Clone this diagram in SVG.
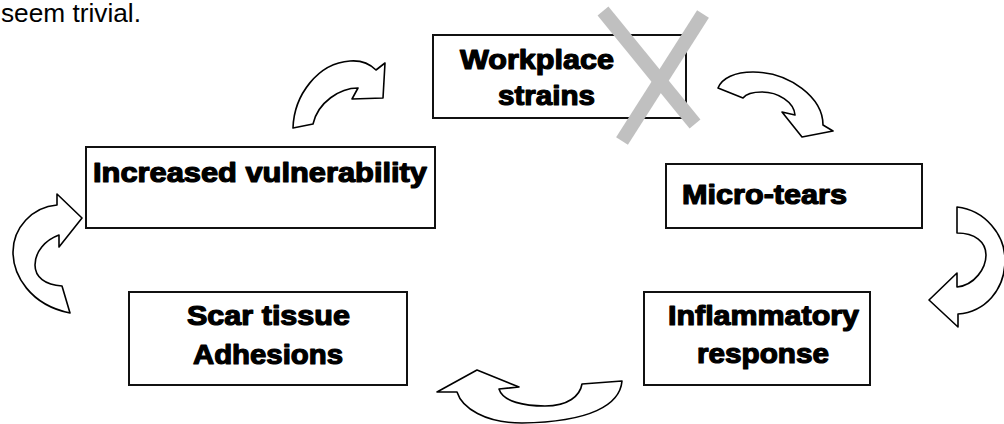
<svg xmlns="http://www.w3.org/2000/svg" width="1004" height="424" viewBox="0 0 1004 424">
<style>
.box{fill:#fff;stroke:#111;stroke-width:2}
.lbl{font-family:"Liberation Sans",Arial,sans-serif;font-weight:bold;font-size:27px;fill:#000;stroke:#000;stroke-width:1.2;stroke-linejoin:round}
.arr{fill:#fff;stroke:#000;stroke-width:1.6;stroke-linejoin:round}
.cross{stroke:#c0c0c0;stroke-width:14;fill:none}
.body{font-family:"Liberation Sans",Arial,sans-serif;font-size:26.7px;fill:#000}
</style>
<rect width="1004" height="424" fill="#fff"/>
<text class="body" x="1" y="22" textLength="140" lengthAdjust="spacingAndGlyphs">seem trivial.</text>
<g id="connectors">
<path class="arr" d="M293,128 C294,95 318,63 350,61 C362,60 370,64 376,70 L385,63 L383,98 L352,99 L358,88 C340,88 318,102 313,124 Z"/>
<path class="arr" d="M718,88 C722,78 735,72 753,72 C790,72 823,98 823,125 L833,131 L802,137 L782,112 L795,115 C794,102 778,92 762,92 C752,92 746,94 743,98 Z"/>
<path class="arr" d="M957,207 C985,210 1005,235 1005,260 C1005,290 985,312 958,314 L958,327 L929,300 L957,273 L957,287 C975,285 986,268 986,255 C986,242 975,233 957,233 Z"/>
<path class="arr" d="M622,381 C620,405 590,422 522,423 C485,423 462,408 457,392 L437,392 L477,370 L519,387 L499,389 C503,402 525,406 545,406 C568,406 580,396 582,384 Z"/>
<path class="arr" d="M70,313 C30,305 13,275 13,252 C13,228 32,207 57,205 L57,194 L82,218 L59,247 L59,235 C45,240 35,252 35,265 C35,277 45,285 62,286 Z"/>
</g>
<g id="workplace">
<rect class="box" x="433" y="35" width="253" height="83"/>
<text class="lbl" x="460" y="69" textLength="154" lengthAdjust="spacingAndGlyphs">Workplace</text>
<text class="lbl" x="498" y="105" textLength="97" lengthAdjust="spacingAndGlyphs">strains</text>
</g>
<g id="micro">
<rect class="box" x="666" y="164" width="256" height="64"/>
<text class="lbl" x="682" y="204" textLength="165" lengthAdjust="spacingAndGlyphs">Micro-tears</text>
</g>
<g id="inflammatory">
<rect class="box" x="644" y="292" width="226" height="93"/>
<text class="lbl" x="668" y="325" textLength="191" lengthAdjust="spacingAndGlyphs">Inflammatory</text>
<text class="lbl" x="697" y="363" textLength="132" lengthAdjust="spacingAndGlyphs">response</text>
</g>
<g id="scar">
<rect class="box" x="129" y="292" width="278" height="93"/>
<text class="lbl" x="187" y="325" textLength="163" lengthAdjust="spacingAndGlyphs">Scar tissue</text>
<text class="lbl" x="193" y="364" textLength="150" lengthAdjust="spacingAndGlyphs">Adhesions</text>
</g>
<g id="vulnerability">
<rect class="box" x="86" y="147" width="349" height="81"/>
<text class="lbl" x="93" y="182" textLength="334" lengthAdjust="spacingAndGlyphs">Increased vulnerability</text>
</g>
<g id="cross">
<line class="cross" x1="603" y1="11" x2="695" y2="124"/>
<line class="cross" x1="703" y1="14" x2="622" y2="141"/>
</g>
</svg>
